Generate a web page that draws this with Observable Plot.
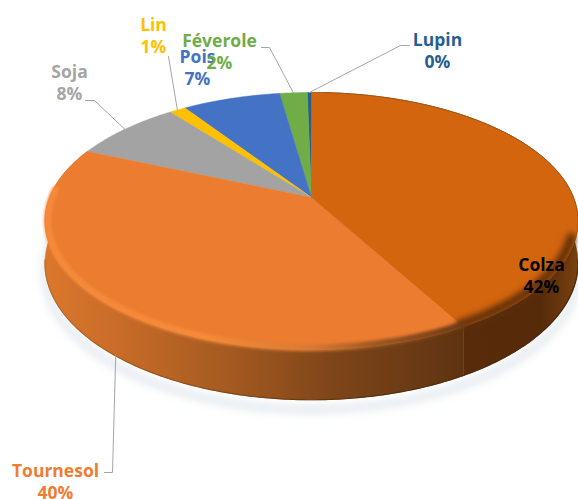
<!DOCTYPE html>
<html>
<head>
<meta charset="utf-8">
<style>html,body{margin:0;padding:0;background:#fff;overflow:hidden}svg{display:block}</style>
<script src="https://cdn.jsdelivr.net/npm/d3@7"></script>
<script src="https://cdn.jsdelivr.net/npm/@observablehq/plot@0.6"></script>
</head>
<body>
<div id="chart"></div>
<script>
// Chart values
const names = ["Colza", "Tournesol", "Soja", "Lin", "Pois", "Féverole", "Lupin"];
const shares = [41.9, 39.6, 7.9, 1.2, 7.1, 2.0, 0.3];

// Styling and layout, separate from the values
const sliceColors = ["#D4650F", "#EC7C30", "#A3A3A3", "#FFC000", "#4472C4", "#70AD47", "#255E91"];
const labelColors = ["#000000", "#ED7D31", "#A5A5A5", "#FFC000", "#4472C4", "#70AD47", "#255E91"];
const labelX = [541, 55, 69, 153, 197, 219, 437];
const labelY = [274, 480, 81, 34, 66, 50, 49];
const drawOrder = [6, 5, 4, 3, 2, 1, 0];
const leaderElbows = {
  Tournesol: [[104, 472], [112, 472]],
  Soja: [[85, 100], [94, 100]],
  Lin: [[168, 56]],
  "Féverole": [[261, 47], [269, 47]],
  Lupin: [[409, 45], [400, 45]]
};
const leaderPull = {Tournesol: 0.485};

const W = 578, H = 499;
const pie = {cx: 311, apexY: 197, R: 262, tilt: 88.2, persp: 0.183, depth: 41};

// Perspective projection of a point of the disc, angle clockwise from the top
function rim(theta, drop = 0, r = 1) {
  const u = r * Math.sin(theta), v = r * Math.cos(theta), k = 1 + pie.persp * v;
  return {x: pie.cx + pie.R * u / k, y: (pie.apexY - pie.tilt * v + drop) / k};
}
function arc(a0, a1, drop = 0, r = 1) {
  const n = Math.max(2, Math.ceil(Math.abs(a1 - a0) / 0.01));
  return d3.range(n + 1).map(i => rim(a0 + (a1 - a0) * i / n, drop, r));
}

const arcs = d3.pie().sort(null).value(d => d)(shares);
const slices = names.map((name, i) => ({
  name, start: arcs[i].startAngle, end: arcs[i].endAngle,
  mid: (arcs[i].startAngle + arcs[i].endAngle) / 2
}));
const apex = {x: pie.cx, y: pie.apexY};
const face = s => [apex, ...arc(s.start, s.end), apex];
const wall = (a0, a1) => [...arc(a0, a1), ...arc(a1, a0, pie.depth)];

const [colza, tournesol] = slices;
const wallEnd = tournesol.end;

// Gradients live in the SVG's defs
function gradient(id, stops) {
  return () => {
    const g = d3.create("svg:linearGradient")
      .attr("id", id).attr("gradientUnits", "userSpaceOnUse")
      .attr("x1", 44).attr("x2", 578).attr("y1", 0).attr("y2", 0);
    stops.forEach(([o, c]) => g.append("stop").attr("offset", o).attr("stop-color", c));
    return d3.create("svg:defs").call(s => s.append(() => g.node())).node();
  };
}

const leaders = slices.filter(s => leaderElbows[s.name]).map(s => {
  const pull = leaderPull[s.name] ?? 0.5;
  const a = s.start + (s.end - s.start) * pull;
  const end = s.name === "Tournesol" ? rim(a, pie.depth) : rim(a);
  return [...leaderElbows[s.name].map(([x, y]) => ({x, y})), end];
});

const labels = names.map((name, i) => ({
  text: name + "\n" + Math.round(shares[i]) + "%", x: labelX[i], y: labelY[i], color: labelColors[i]
}));

const chart = Plot.plot({
  width: W, height: H,
  margin: 0,
  x: {domain: [0, W], axis: null},
  y: {domain: [H, 0], axis: null},
  style: {background: "#fff"},
  marks: [
    gradient("tournesolWall", [[0, "#DB772C"], [0.14, "#C86C28"], [0.35, "#A45A20"], [0.54, "#7E4519"], [0.78, "#5F3412"]]),
    gradient("colzaWall", [[0.75, "#592C0B"], [0.93, "#562B0A"], [1, "#7A4210"]]),
    gradient("tournesolBevel", [[0, "#F58A3A"], [0.3, "#F58A3A"], [0.5, "#D87A33"], [0.62, "#9C5823"], [0.78, "#6E3C14"]]),
    gradient("rimLine", [[0, "#B96A2A"], [0.3, "#8A4C1C"], [0.6, "#5A2F0E"], [1, "#4A2508"]]),
    // soft shadow under the disc
    Plot.line(arc(Math.PI * 0.45, Math.PI * 1.55, pie.depth + 8), {
      x: "x", y: "y", stroke: "#C3D0DA", strokeWidth: 6, strokeOpacity: 0.6, imageFilter: "blur(5px)"
    }),
    // wall of the cylinder
    Plot.line(wall(tournesol.start, wallEnd), {x: "x", y: "y", fill: "url(#tournesolWall)", stroke: "url(#tournesolWall)", strokeWidth: 0.6}),
    Plot.line(wall(colza.start, colza.end), {x: "x", y: "y", fill: "url(#colzaWall)", stroke: "url(#colzaWall)", strokeWidth: 0.6}),
    Plot.line(arc(Math.PI * 0.55, Math.PI * 1.45, pie.depth), {
      x: "x", y: "y", stroke: "url(#rimLine)", strokeWidth: 1.2
    }),
    // top face
    ...drawOrder.map(i => Plot.line(face(slices[i]), {
      x: "x", y: "y", fill: sliceColors[i], stroke: sliceColors[i], strokeWidth: 0.5
    })),
    // bevels along the rim
    Plot.line(arc(Math.PI * 0.6, colza.end, 0, 0.985), {
      x: "x", y: "y", stroke: "#5E2F08", strokeWidth: 9, imageFilter: "blur(3px)"
    }),
    Plot.line(arc(colza.start + 0.05, Math.PI * 0.6), {
      x: "x", y: "y", stroke: "#9A5410", strokeWidth: 1, strokeOpacity: 0.8
    }),
    Plot.line(arc(tournesol.start, Math.PI * 1.52, 0, 0.99), {
      x: "x", y: "y", stroke: "url(#tournesolBevel)", strokeWidth: 7, imageFilter: "blur(1.5px)"
    }),
    // leader lines
    ...leaders.map(pts => Plot.line(pts, {x: "x", y: "y", stroke: "#A6A6A6", strokeWidth: 1})),
    // labels
    Plot.text(labels, {
      x: "x", y: "y", text: "text", fill: "color",
      fontFamily: "Open Sans", fontWeight: 700, fontSize: 17.5, lineHeight: 1.27, textAnchor: "middle"
    })
  ]
});
document.getElementById("chart").append(chart);
</script>
</body>
</html>
